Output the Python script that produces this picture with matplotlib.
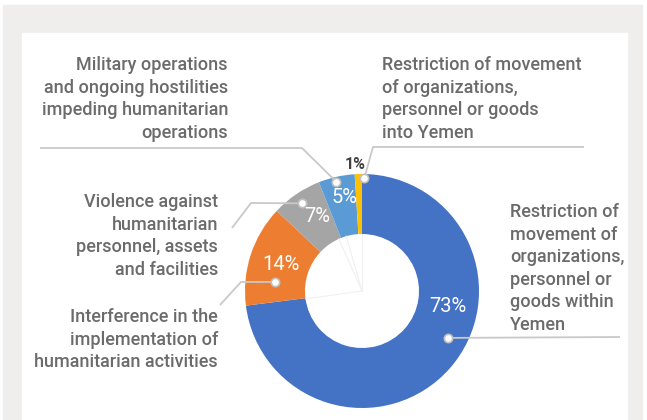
import numpy as np
import matplotlib.pyplot as plt

# Data: share of access constraints
categories = [
    "Restriction of\nmovement of\norganizations,\npersonnel or\ngoods within\nYemen",
    "Interference in the\nimplementation of\nhumanitarian activities",
    "Violence against\nhumanitarian\npersonnel, assets\nand facilities",
    "Military operations\nand ongoing hostilities\nimpeding humanitarian\noperations",
    "Restriction of movement\nof organizations,\npersonnel or goods\ninto Yemen",
]
shares = [73, 14, 7, 5, 1]
colors = ["#4472C4", "#ED7D31", "#A5A5A5", "#5B9BD5", "#FFC000"]

W, H = 647, 420
plt.rcParams["font.family"] = ["Roboto", "DejaVu Sans"]

fig = plt.figure(figsize=(W / 100, H / 100), dpi=100)
ax = fig.add_axes([0, 0, 1, 1])


def Y(py):
    # pixel row (from top) -> data y
    return H - py


# background frame + white card
ax.add_patch(plt.Rectangle((3, 0), 639, Y(5), color="#efeeec", zorder=0))
ax.add_patch(plt.Rectangle((22, 0), 605, Y(33), color="white", zorder=0))

cx, cy = 362, Y(291)
R = 117
wedges, _ = ax.pie(shares, colors=colors, startangle=90, counterclock=False,
                   center=(cx, cy), radius=R, frame=True,
                   wedgeprops=dict(width=60, linewidth=0))


def polar(ang, r):
    a = np.deg2rad(ang)
    return cx + r * np.cos(a), cy + r * np.sin(a)


mids = [(w.theta1 + w.theta2) / 2 for w in wedges]

# faint lines inside the hole
for ang in [90, 106, 114, 188]:
    x1, y1 = polar(ang, 57)
    ax.plot([cx, x1], [cy, y1], color="#f0f0f0", lw=0.8, zorder=1)

# percent labels
pct_shift = [31, 0, -3, -2, 0]
pct_r = [87, 85, 87, 95, 129]
for i, (m, v) in enumerate(zip(mids, shares)):
    x, y = polar(m + pct_shift[i], pct_r[i])
    if v > 2:
        ax.text(x, y, f"{v}%", color="white", fontsize=14.5, ha="center",
                va="center", zorder=5)
    else:
        ax.text(x - 3, y - 2, f"{v}%", color="#404040", fontsize=11.5,
                fontweight="bold", ha="center", va="center", zorder=5)

# leader lines with dots
dot_shift = [12.8, 12, 0, 0.6, -3.0]
dot_r = [98, 87, 106, 112, 113]
leader_paths = [
    [(620, 337)],
    [(241, 282), (220, 305)],
    [(251, 203), (232, 228)],
    [(302, 148), (40, 148)],
    [(373, 147), (584, 147)],
]
for i, m in enumerate(mids):
    dx, dy = polar(m + dot_shift[i], dot_r[i])
    xs = [dx] + [p[0] for p in leader_paths[i]]
    ys = [dy] + [Y(p[1]) for p in leader_paths[i]]
    ax.plot(xs, ys, color="#c9c9c9", lw=1.3, zorder=3, solid_capstyle="butt")
    ax.plot(dx, dy, "o", ms=6, mfc="white", mec="#c0c0c0", mew=1.2, zorder=6)

# category labels (x, first baseline, alignment)
label_pos = [
    (510, 217, "left"),
    (218, 322, "right"),
    (218, 207, "right"),
    (228, 70, "right"),
    (382, 70, "left"),
]
for text, (x, base, ha) in zip(categories, label_pos):
    for j, line in enumerate(text.split("\n")):
        ax.text(x, Y(base + j * 22.6), line, ha=ha, va="baseline",
                fontsize=13, color="#6b6b6b", fontweight="medium", zorder=5)

ax.set_xlim(0, W)
ax.set_ylim(0, H)
ax.set_aspect("equal")
ax.axis("off")

fig.savefig("out.png", dpi=100, facecolor="white")
